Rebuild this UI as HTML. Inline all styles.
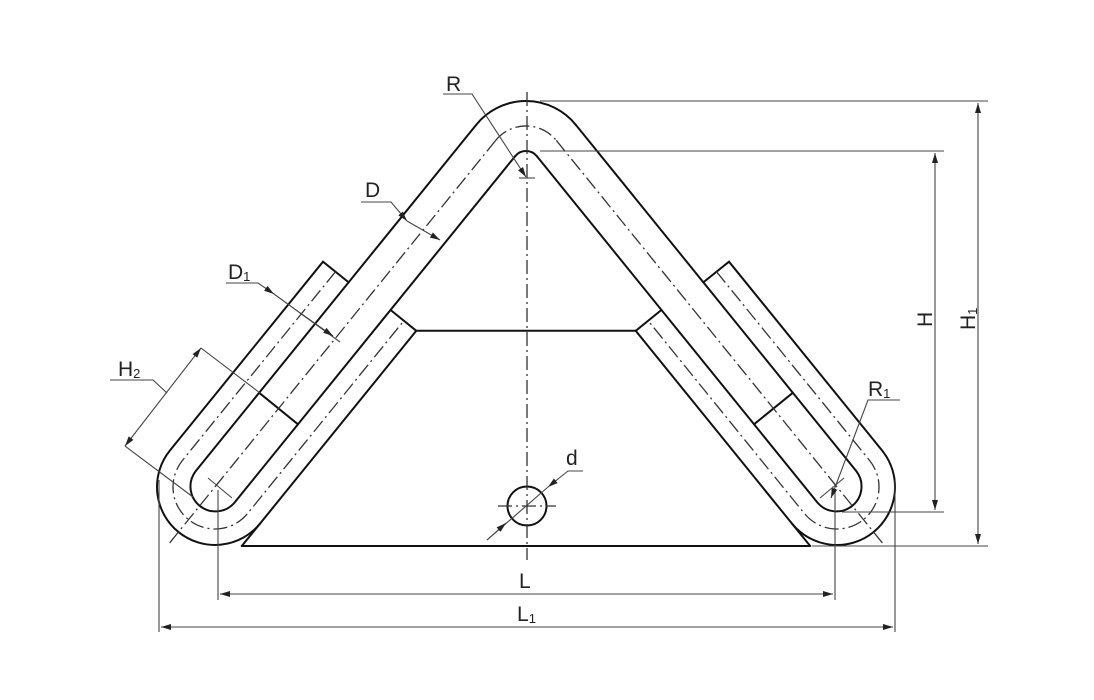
<!DOCTYPE html>
<html><head><meta charset="utf-8"><style>
html,body{margin:0;padding:0;background:#fff;}
svg{display:block;}
text{font-family:"Liberation Sans",sans-serif;fill:#222;}
</style></head><body>
<svg width="1094" height="700" viewBox="0 0 1094 700" xmlns="http://www.w3.org/2000/svg">
<defs>
<marker id="ar" viewBox="0 0 10 6" refX="10" refY="3" markerWidth="10" markerHeight="6" orient="auto-start-reverse" markerUnits="userSpaceOnUse">
<path d="M0,0 L10,3 L0,6 z" fill="#222"/></marker>
</defs>
<g fill="none" stroke="#111" stroke-width="2" stroke-linecap="round">
<!-- apex arcs -->
<path d="M476.3,124.7 A64,64 0 0 1 575.7,124.7"/>
<path d="M515.1,156.2 A14,14 0 0 1 536.9,156.2"/>
<!-- right side -->
<path d="M575.7,124.7 L856.4,471.25 A25,25 0 0 1 817.6,502.75 L536.9,156.2"/>
<path d="M703.3,282.4 L729,261.7 L882.1,450.5 A58,58 0 0 1 791.9,523.5 L635.7,330.8 L661.4,310"/>
<path d="M791.9,523.5 L810.2,546"/>
<path d="M792.8,392.8 L754,424.3"/>
<!-- left side -->
<path d="M476.3,124.7 L195.6,471.25 A25,25 0 0 0 234.4,502.75 L515.1,156.2"/>
<path d="M348.7,282.4 L323,261.7 L169.9,450.5 A58,58 0 0 0 260.1,523.5 L416.3,330.8 L390.6,310"/>
<path d="M260.1,523.5 L241.8,546"/>
<path d="M259.2,392.8 L298,424.3"/>
<!-- horizontals -->
<path d="M416.3,330.8 L635.7,330.8"/>
<path d="M241.8,546 L810.2,546"/>
<!-- hole -->
<circle cx="527" cy="506" r="19.5"/>
</g>
<!-- dash-dot center lines -->
<g fill="none" stroke="#333" stroke-width="1.3" stroke-dasharray="14 4 2 4">
<path d="M495.7,140.4 A39,39 0 0 1 556.3,140.4"/>
<path d="M556.3,140.4 L884.3,545.3"/>
<path d="M495.7,140.4 L167.7,545.3"/>
<path d="M716.5,271.7 L869.6,460.5 A42,42 0 0 1 804.4,513.5 L648.2,320.8"/>
<path d="M335.5,271.7 L182.4,460.5 A42,42 0 0 0 247.6,513.5 L403.8,320.8"/>
<path d="M527,92 L527,560"/>
<path d="M498,506 L556,506"/>
</g>
<!-- dimension lines -->
<g fill="none" stroke="#444" stroke-width="1.1">
<path d="M540,101 L988,101"/>
<path d="M540,151 L944,151"/>
<path d="M842,512 L944,512"/>
<path d="M812,546 L988,546"/>
<path d="M978,103 L978,544" marker-start="url(#ar)" marker-end="url(#ar)"/>
<path d="M935,153 L935,510" marker-start="url(#ar)" marker-end="url(#ar)"/>
<path d="M218,490 L218,600"/>
<path d="M835,492 L835,600"/>
<path d="M159,480 L159,632"/>
<path d="M895,480 L895,632"/>
<path d="M220,594 L833,594" marker-start="url(#ar)" marker-end="url(#ar)"/>
<path d="M161,627 L893,627" marker-start="url(#ar)" marker-end="url(#ar)"/>
<!-- R -->
<path d="M443,94 L472,94 L526,177" marker-end="url(#ar)"/>
<path d="M519,178 L535,178"/>
<!-- D -->
<path d="M361,202 L391,202 L407,221" marker-end="url(#ar)"/>
<path d="M407,221 L440,240" marker-end="url(#ar)"/>
<!-- D1 -->
<path d="M226,283 L258,283 L274,294" marker-end="url(#ar)"/>
<path d="M274,294 L340,342"/>
<path d="M300,313 L333,336" marker-end="url(#ar)"/>
<!-- H2 -->
<path d="M125,446 L201,348" marker-start="url(#ar)" marker-end="url(#ar)"/>
<path d="M201,348 L260,393"/>
<path d="M125,446 L193,497"/>
<path d="M110,380 L153,380 L167,393"/>
<!-- R1 -->
<path d="M900,400 L868,400 L831,498" marker-end="url(#ar)"/>
<!-- d -->
<path d="M583,471 L568,471 L548,487" marker-end="url(#ar)"/>
<path d="M548,487 L487,540"/>
<path d="M487,540 L506,523" marker-end="url(#ar)"/>
<!-- center marks -->
<path d="M208,478 L232,498"/>
<path d="M844,478 L820,498"/>
</g>
<!-- labels -->
<text x="446" y="91" font-size="21">R</text>
<text x="365" y="197" font-size="21">D</text>
<text x="228" y="279" font-size="21">D<tspan font-size="13" dy="2">1</tspan></text>
<text x="118" y="376" font-size="21">H<tspan font-size="13" dy="2">2</tspan></text>
<text x="566" y="465" font-size="21">d</text>
<text x="868" y="396" font-size="21">R<tspan font-size="13" dy="2">1</tspan></text>
<text x="519" y="588" font-size="21">L</text>
<text x="517" y="621" font-size="21">L<tspan font-size="13" dy="2">1</tspan></text>
<text x="0" y="0" font-size="21" transform="translate(932,327) rotate(-90)">H</text>
<text x="0" y="0" font-size="21" transform="translate(975,330) rotate(-90)">H<tspan font-size="13" dy="2">1</tspan></text>
</svg>
</body></html>
